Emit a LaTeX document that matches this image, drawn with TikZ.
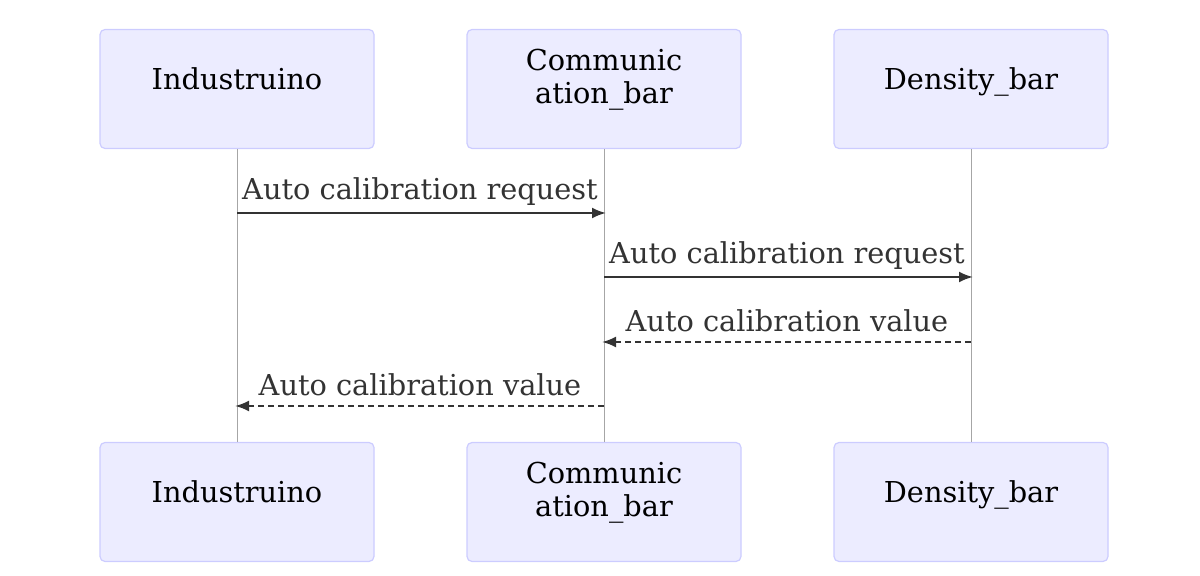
\documentclass[tikz,border=0pt]{standalone}
\usepackage{fontspec}
\setmainfont{DejaVu Serif}
\usepackage{tikz}
\usetikzlibrary{arrows.meta}

\definecolor{actfill}{HTML}{ECECFF}
\definecolor{actline}{HTML}{CCCCFF}
\definecolor{msgcol}{HTML}{333333}

\tikzset{
    actor/.style={rectangle, rounded corners=2.5pt, draw=actline, fill=actfill, line width=0.6pt,
        minimum width=137pt, minimum height=59.5pt},
    actortext/.style={align=center, inner sep=0pt, font=\fontsize{14.4}{16.5}\selectfont},
    life/.style={draw=black!35, line width=0.5pt},
    msg/.style={msgcol, line width=1.1pt, -{Latex[length=7pt, width=5.5pt]}},
    reply/.style={msg, dash pattern=on 3pt off 2pt},
    msglabel/.style={msgcol, font=\fontsize{14.4}{16}\selectfont, inner sep=0pt}
}

\begin{document}
\begin{tikzpicture}[x=0.5pt, y=-0.5pt]
    \useasboundingbox (0, 0) rectangle (1200, 576);

    \node[actor] at (237, 89) (indT) {};
    \node[actor] at (604, 89) (comT) {};
    \node[actor] at (971, 89) (denT) {};
    \node[actor] at (237, 502) (indB) {};
    \node[actor] at (604, 502) (comB) {};
    \node[actor] at (971, 502) (denB) {};

    \node[actortext, anchor=base] at ([yshift=-0.5pt]indT) (indTt) {Industruino};
    \node[actortext] at ([yshift=4.5pt]comT) (comTt) {Communic\\ation\_bar};
    \node[actortext, anchor=base] at ([yshift=-0.5pt]denT) (denTt) {Density\_bar};
    \node[actortext, anchor=base] at ([yshift=-0.5pt]indB) (indBt) {Industruino};
    \node[actortext] at ([yshift=4.5pt]comB) (comBt) {Communic\\ation\_bar};
    \node[actortext, anchor=base] at ([yshift=-0.5pt]denB) (denBt) {Density\_bar};

    \draw[life] (indT) -- (indB);
    \draw[life] (comT) -- (comB);
    \draw[life] (denT) -- (denB);

    \coordinate (i1) at (237, 213);
    \coordinate (c1) at (606, 213);
    \coordinate (c2) at (604, 277);
    \coordinate (d2) at (973, 277);
    \coordinate (d3) at (971, 342);
    \coordinate (c3) at (602, 342);
    \coordinate (c4) at (604, 406);
    \coordinate (i4) at (235, 406);

    \draw[msg] (i1) -- (c1);
    \draw[msg] (c2) -- (d2);
    \draw[reply] (d3) -- (c3);
    \draw[reply] (c4) -- (i4);

    \node[msglabel] at (420, 192) (l1) {Auto calibration request};
    \node[msglabel] at (787, 256) (l2) {Auto calibration request};
    \node[msglabel] at (787, 321) (l3) {Auto calibration value};
    \node[msglabel] at (420, 385) (l4) {Auto calibration value};
\end{tikzpicture}
\end{document}
